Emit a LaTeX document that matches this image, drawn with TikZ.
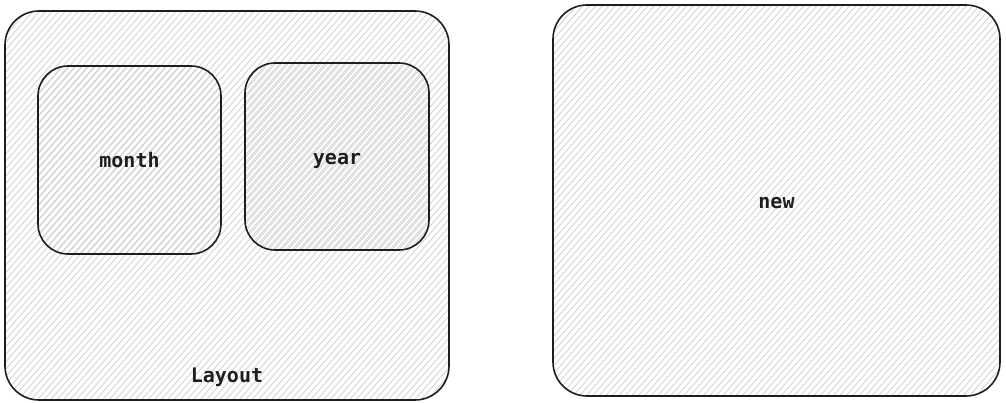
\documentclass[tikz,border=0pt]{standalone}
\usepackage{fontspec}
\setmonofont{DejaVu Sans Mono}
\usetikzlibrary{calc}
\definecolor{ink}{HTML}{1E1E1E}
\definecolor{hatchc}{HTML}{D4D4D4}
\tikzset{
  hatchline/.style={draw=hatchc, line width=0.9pt},
  sketchbox/.style={draw=ink, line width=1.6pt, rectangle, rounded corners=#1,
    font=\ttfamily\bfseries\fontsize{20}{24}\selectfont, text=ink,
    text height=20pt, text depth=4pt,
    path picture={
      \foreach \k in {-90,...,90}{
        \draw[hatchline] ($(path picture bounding box.center)+(\k*6.5pt,0)+(-280pt,-320pt)$) -- ++(560pt,640pt);
      }
    }},
  sketchbox/.default=30pt,
  label/.style={font=\ttfamily\bfseries\fontsize{20}{24}\selectfont, text=ink, inner sep=0pt}
}
\begin{document}
\begin{tikzpicture}[x=1pt,y=1pt]
\useasboundingbox (0,0) rectangle (1006,403);
\node[sketchbox=34pt, minimum width=444pt, minimum height=389pt] (layoutbox) at (227,197.5) {};
\node[sketchbox=30pt, minimum width=183pt, minimum height=188pt] (month) at (129.5,243) {month};
\node[sketchbox=30pt, minimum width=184pt, minimum height=187pt] (year) at (337,246.5) {year};
\node[sketchbox=34pt, minimum width=447pt, minimum height=391pt] (new) at (776.5,202.5) {new};
\node[label] (layouttext) at (227,26) {Layout};
\end{tikzpicture}
\end{document}
